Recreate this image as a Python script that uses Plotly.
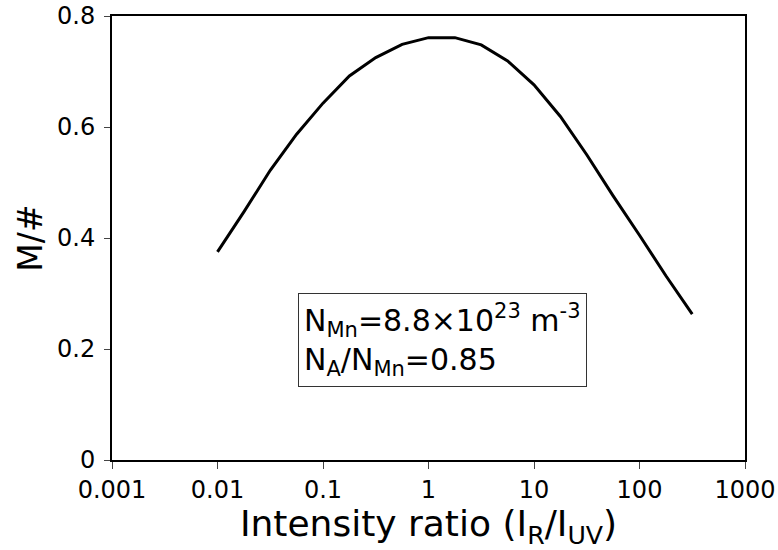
import plotly.graph_objects as go

log_x = [-2.0, -1.75, -1.5, -1.25, -1.0, -0.75, -0.5, -0.25, 0.0, 0.25, 0.5, 0.75, 1.0, 1.25, 1.5, 1.75, 2.0, 2.25, 2.5]
m_vals = [0.375, 0.447, 0.522, 0.587, 0.643, 0.692, 0.725, 0.749, 0.761, 0.761, 0.748, 0.719, 0.676, 0.619, 0.550, 0.476, 0.405, 0.332, 0.263]
x_vals = [10 ** v for v in log_x]

tick_vals = [0.001, 0.01, 0.1, 1, 10, 100, 1000]
tick_text = ["0.001", "0.01", "0.1", "1", "10", "100", "1000"]
y_ticks = [0, 0.2, 0.4, 0.6, 0.8]
y_text = ["0", "0.2", "0.4", "0.6", "0.8"]

FONT = "DejaVu Sans"

fig = go.Figure()
fig.add_trace(go.Scatter(x=x_vals, y=m_vals, mode="lines",
                         line=dict(color="black", width=3), showlegend=False))

fig.update_layout(
    width=778, height=550,
    margin=dict(l=112, r=33, t=16, b=90),
    paper_bgcolor="white", plot_bgcolor="white",
    font=dict(family=FONT, color="black", size=24),
    xaxis=dict(type="log", range=[-3, 3], tickvals=tick_vals, ticktext=tick_text,
               ticks="outside", ticklen=7, tickwidth=1, tickcolor="#444444",
               showline=True, linecolor="black", linewidth=2, mirror=True,
               showgrid=False, zeroline=False, automargin=False,
               tickfont=dict(size=24, family=FONT),
               title=dict(text="Intensity ratio (I<sub>R</sub>/I<sub>UV</sub>)",
                          font=dict(size=36, family=FONT), standoff=2)),
    yaxis=dict(range=[0, 0.8], tickvals=y_ticks, ticktext=y_text,
               ticks="outside", ticklen=6, tickwidth=1, tickcolor="#444444",
               showline=True, linecolor="black", linewidth=2, mirror=True,
               showgrid=False, zeroline=False, automargin=False,
               ticklabelstandoff=4,
               tickfont=dict(size=24, family=FONT),
               title=dict(text="M/#", font=dict(size=33, family=FONT), standoff=4)),
)

fig.add_annotation(
    xref="paper", yref="paper", x=0.294, y=0.376, xanchor="left", yanchor="top",
    text="N<sub>Mn</sub>=8.8×10<sup>23</sup> m<sup>-3</sup><br>N<sub>A</sub>/N<sub>Mn</sub>=0.85",
    showarrow=False, align="left", font=dict(size=30, family=FONT, color="black"),
    bordercolor="#333333", borderwidth=1, borderpad=5, bgcolor="white",
)

fig.write_html("out.html")
